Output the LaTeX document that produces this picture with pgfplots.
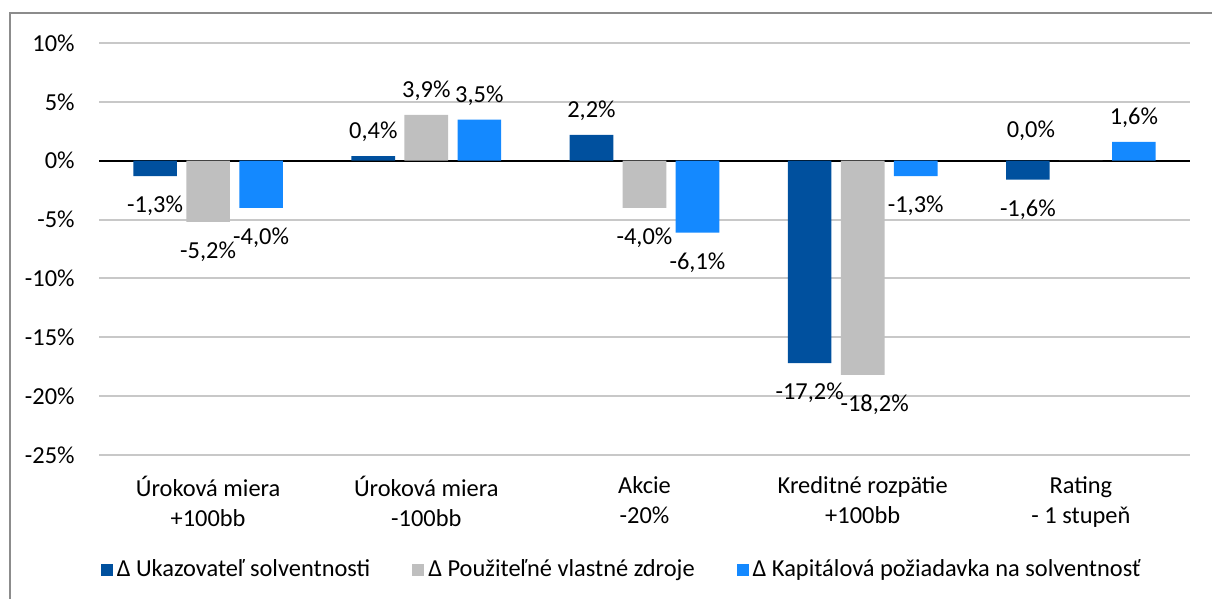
\documentclass[border=0pt]{standalone}
\usepackage{fontspec}
\setmainfont{Carlito}
\usepackage{pgfplots}
\pgfplotsset{compat=1.18}
\definecolor{c1}{RGB}{0,80,158}
\definecolor{c2}{RGB}{191,191,191}
\definecolor{c3}{RGB}{20,137,255}
\definecolor{framec}{RGB}{140,140,140}
\definecolor{gridc}{RGB}{200,200,200}
\newcommand{\ff}{\fontsize{12.2}{15}\selectfont}
\pgfplotsset{
  lbl/.style={
    nodes near coords={\pgfmathprintnumber[fixed,fixed zerofill,precision=1,use comma,assume math mode=true]{\pgfplotspointmeta}\%},
    visualization depends on={rawy \as \myy},
    every node near coord/.append style={anchor=center, font=\ff, text=black,
      yshift={(\myy<0 ? -15 : (\myy==0 ? 15 : 12))*1pt},
      xshift={(#1 + (\myy<-18 ? 6 : (\myy==0 ? -25 : 0)))*1pt}},
  },
  sq/.style={legend image code/.code={\fill[##1] (0pt,-3pt) rectangle (6pt,3pt);}},
}
\begin{document}
\ff
\begin{tikzpicture}[x=1pt,y=1pt]
\useasboundingbox (0,0) rectangle (606,299.5);
\draw[line width=1pt, color=framec] (5,-5) rectangle (611,293);
\begin{axis}[
  at={(49.5pt,72pt)}, anchor=south west,
  scale only axis, width=545.5pt, height=206pt,
  xmin=-0.5, xmax=4.5, ymin=-25, ymax=10,
  axis line style={draw=none},
  major tick length=0pt,
  ytick={-25,-20,-15,-10,-5,0,5,10},
  yticklabels={-25\%,-20\%,-15\%,-10\%,-5\%,0\%,5\%,10\%},
  ymajorgrids, grid style={gridc, line width=1pt},
  extra y ticks={0}, extra y tick labels={},
  extra y tick style={grid style={black, line width=1pt}},
  xtick={0,1,2,3,4},
  xticklabels={{Úroková miera\\+100bb},{Úroková miera\\-100bb},{Akcie\\-20\%},{Kreditné rozpätie\\+100bb},{Rating\\- 1 stupeň}},
  xticklabel style={align=center, anchor=north, font=\ff, yshift=-6.5pt},
  yticklabel style={anchor=east, inner sep=0pt, xshift=-12pt, font=\ff},
  legend style={at={(0.48,-0.279)}, anchor=center, draw=none, fill=none,
    legend columns=3, font=\ff,
    nodes={inner xsep=2pt},
    /tikz/every even column/.append style={column sep=19pt}},
  legend cell align=left,
  clip=false,
]
\addplot[ybar, bar width=0.2, bar shift=-0.243, fill=c1, draw=none, lbl=-26.5, sq]
  coordinates {(0,-1.3) (1,0.4) (2,2.2) (3,-17.2) (4,-1.6)};
\addlegendentry{Δ Ukazovateľ solventnosti}
\addplot[ybar, bar width=0.2, bar shift=0, fill=c2, draw=none, lbl=0, sq]
  coordinates {(0,-5.2) (1,3.9) (2,-4.0) (3,-18.2) (4,0.0)};
\addlegendentry{Δ Použiteľné vlastné zdroje}
\addplot[ybar, bar width=0.2, bar shift=0.243, fill=c3, draw=none, lbl=26.5, sq]
  coordinates {(0,-4.0) (1,3.5) (2,-6.1) (3,-1.3) (4,1.6)};
\addlegendentry{Δ Kapitálová požiadavka na solventnosť}
\end{axis}
\end{tikzpicture}
\end{document}
